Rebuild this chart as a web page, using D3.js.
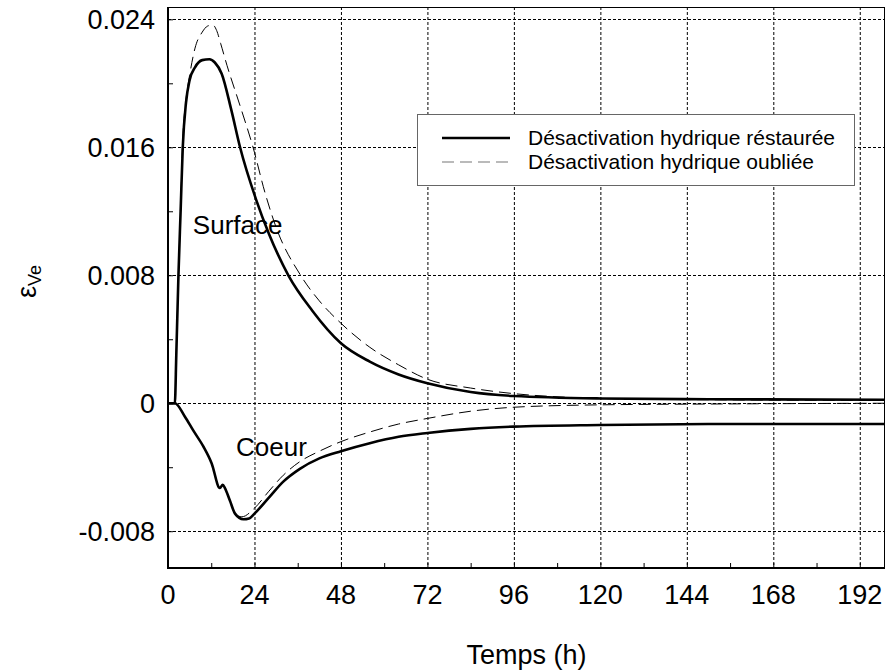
<!DOCTYPE html>
<html>
<head>
<meta charset="utf-8">
<script src="https://cdn.jsdelivr.net/npm/d3@7"></script>
<style>
  body { margin: 0; background: #fff; }
  text { font-family: Arial, "Liberation Sans", sans-serif; fill: #000; }
</style>
</head>
<body>
<div id="wrapper"></div>
<script>
// tick values
const xTicks = [0, 24, 48, 72, 96, 120, 144, 168, 192];
const yTicks = [-0.008, 0, 0.008, 0.016, 0.024];
const yTickLabels = ["-0.008", "0", "0.008", "0.016", "0.024"];
const seriesNames = ["Désactivation hydrique réstaurée", "Désactivation hydrique oubliée"];

// [temps (h), epsilon]
const surfaceRestored = [
  [0, 0], [1.9, 0], [2.3, 0.003], [2.9, 0.008], [3.5, 0.012], [4.1, 0.016], [5.0, 0.0188],
  [6.0, 0.0202], [7.5, 0.0210], [9.5, 0.02145], [11.5, 0.0215], [13, 0.0213], [14.9, 0.0206],
  [17.5, 0.0184], [20, 0.016], [24.5, 0.0127], [28, 0.0106], [33.4, 0.008], [40, 0.0058],
  [48, 0.00375], [56, 0.0026], [64, 0.0018], [72, 0.00125], [84, 0.0007], [96, 0.00045],
  [120, 0.0003], [150, 0.00025], [199, 0.00022]
];
const surfaceForgotten = [
  [0, 0], [1.9, 0], [2.3, 0.003], [2.9, 0.008], [3.5, 0.012], [4.0, 0.016], [5.0, 0.019],
  [6.0, 0.0205], [7.5, 0.0222], [9.5, 0.0232], [11, 0.02358], [12.4, 0.02365], [13.5, 0.0233],
  [14.6, 0.0225], [16.4, 0.0211], [20, 0.0186], [23.6, 0.016], [27, 0.0131], [30, 0.011],
  [36.8, 0.008], [42, 0.0064], [48, 0.005], [56, 0.0035], [64, 0.0024], [72, 0.0015],
  [84, 0.00095], [96, 0.0006], [110, 0.00038], [120, 0.0003], [150, 0.00022], [199, 0.00018]
];
const coeurRestored = [
  [0, 0], [1.9, 0], [4.7, -0.00084], [7, -0.0017], [9.8, -0.0027], [12.1, -0.00375],
  [14.4, -0.0053], [15.2, -0.0051], [15.8, -0.0053], [17.2, -0.0061], [18.6, -0.0069],
  [20.9, -0.00725], [22.5, -0.0072], [24, -0.0069], [28, -0.0059], [32, -0.0049],
  [36.6, -0.0041], [42, -0.00345], [48, -0.003], [56, -0.0025], [64, -0.0021], [72, -0.00186],
  [84, -0.0016], [96, -0.00146], [120, -0.00136], [150, -0.0013], [199, -0.0013]
];
const coeurForgotten = [
  [0, 0], [1.9, 0], [4.7, -0.00084], [7, -0.0017], [9.8, -0.0027], [12.1, -0.00375],
  [14.4, -0.0053], [15.2, -0.0051], [15.8, -0.0053], [17.2, -0.0061], [18.6, -0.0069],
  [20.5, -0.0071], [24, -0.00656], [28, -0.0055], [32, -0.0045], [36.6, -0.00365],
  [42, -0.003], [48, -0.0024], [56, -0.0018], [64, -0.0013], [72, -0.00095], [84, -0.0005],
  [96, -0.00025], [120, -0.0001], [150, -0.00005], [199, 0]
];

var dimension = {
    width: 886,
    height: 672,
    margin: { top: 7, left: 168, bottom: 104, right: 1 }
};
dimension.boundedWidth = dimension.width - dimension.margin.left - dimension.margin.right;
dimension.boundedHeight = dimension.height - dimension.margin.top - dimension.margin.bottom;

const svg = d3.select("#wrapper").append("svg")
    .attr("width", dimension.width)
    .attr("height", dimension.height);

const bounded = svg.append("g")
    .attr("transform", `translate(${dimension.margin.left},${dimension.margin.top})`);

const xScaler = d3.scaleLinear()
    .domain([0, 199])
    .range([0, dimension.boundedWidth]);

const yScaler = d3.scaleLinear()
    .domain([-0.0103, 0.02477])
    .range([dimension.boundedHeight, 0]);

bounded.append("clipPath").attr("id", "clip")
    .append("rect")
    .attr("width", dimension.boundedWidth)
    .attr("height", dimension.boundedHeight);

// grid
const grid = bounded.append("g")
    .attr("stroke", "#000")
    .attr("stroke-width", 1)
    .attr("stroke-dasharray", "3,2");
grid.selectAll(".vg").data(xTicks.filter(d => d > 0)).join("line")
    .attr("x1", d => xScaler(d) + 0.5).attr("x2", d => xScaler(d) + 0.5)
    .attr("y1", 0).attr("y2", dimension.boundedHeight);
grid.selectAll(".hg").data(yTicks).join("line")
    .attr("x1", 0).attr("x2", dimension.boundedWidth)
    .attr("y1", d => Math.round(yScaler(d)) + 0.5).attr("y2", d => Math.round(yScaler(d)) + 0.5);

// frame
bounded.append("rect")
    .attr("x", 0.5).attr("y", 0.5)
    .attr("width", dimension.boundedWidth - 1)
    .attr("height", dimension.boundedHeight)
    .attr("fill", "none").attr("stroke", "#000").attr("stroke-width", 1);
bounded.append("line")
    .attr("x1", 0).attr("x2", 0).attr("y1", 0).attr("y2", dimension.boundedHeight + 1)
    .attr("stroke", "#000").attr("stroke-width", 2);
bounded.append("line")
    .attr("x1", -1).attr("x2", dimension.boundedWidth).attr("y1", dimension.boundedHeight).attr("y2", dimension.boundedHeight)
    .attr("stroke", "#000").attr("stroke-width", 2);

// axes (inner ticks)
const xAxisGroup = bounded.append("g")
    .attr("transform", `translate(0,${dimension.boundedHeight})`)
    .call(d3.axisBottom(xScaler).tickValues(d3.range(0, 199, 12)).tickSizeInner(-5).tickSizeOuter(0).tickFormat(""));
const yAxisGroup = bounded.append("g")
    .call(d3.axisLeft(yScaler).tickValues(d3.range(-0.008, 0.0245, 0.004)).tickSizeInner(-5).tickSizeOuter(0).tickFormat(""));
[xAxisGroup, yAxisGroup].forEach(g => {
    g.select(".domain").remove();
    g.selectAll("line").attr("stroke", "#000").attr("stroke-width", 1);
});

// tick labels
bounded.append("g").selectAll("text").data(xTicks).join("text")
    .attr("x", d => xScaler(d))
    .attr("y", dimension.boundedHeight + 36)
    .attr("text-anchor", "middle")
    .attr("font-size", "27px")
    .text(d => d);
bounded.append("g").selectAll("text").data(yTicks).join("text")
    .attr("x", -13)
    .attr("y", d => yScaler(d))
    .attr("dy", "0.35em")
    .attr("text-anchor", "end")
    .attr("font-size", "27px")
    .text((d, i) => yTickLabels[i]);

// axis titles
svg.append("text")
    .attr("x", dimension.margin.left + dimension.boundedWidth / 2)
    .attr("y", 664)
    .attr("text-anchor", "middle")
    .attr("font-size", "27px")
    .text("Temps (h)");
const yTitle = svg.append("text")
    .attr("transform", `translate(36,${dimension.margin.top + dimension.boundedHeight / 2 - 6}) rotate(-90)`)
    .attr("text-anchor", "middle")
    .attr("font-size", "27px");
yTitle.append("tspan").text("ε");
yTitle.append("tspan").attr("font-size", "18px").attr("dy", "0.3em").text("Ve");

// curves
const line = d3.line()
    .x(d => xScaler(d[0]))
    .y(d => yScaler(d[1]))
    .curve(d3.curveMonotoneX);
const curves = bounded.append("g").attr("clip-path", "url(#clip)");
[surfaceForgotten, coeurForgotten].forEach(s => {
    curves.append("path").datum(s)
        .attr("d", line).attr("fill", "none")
        .attr("stroke", "#000").attr("stroke-width", 1)
        .attr("stroke-dasharray", "12,6");
});
[surfaceRestored, coeurRestored].forEach(s => {
    curves.append("path").datum(s)
        .attr("d", line).attr("fill", "none")
        .attr("stroke", "#000").attr("stroke-width", 2.6);
});

// annotations
bounded.append("text")
    .attr("x", xScaler(6.9)).attr("y", yScaler(0.0106))
    .attr("font-size", "26px").text("Surface");
bounded.append("text")
    .attr("x", xScaler(18.9)).attr("y", yScaler(-0.0033))
    .attr("font-size", "26px").text("Coeur");

// legend
const legend = svg.append("g").attr("transform", "translate(417,114)");
legend.append("rect")
    .attr("x", 0.5).attr("y", 0.5).attr("width", 437).attr("height", 71)
    .attr("fill", "#fff").attr("stroke", "#666").attr("stroke-width", 1);
seriesNames.forEach((name, i) => {
    const y = 24 + i * 24;
    legend.append("line")
        .attr("x1", 25).attr("x2", 93).attr("y1", y).attr("y2", y)
        .attr("stroke", i === 0 ? "#000" : "#777")
        .attr("stroke-width", i === 0 ? 2.6 : 1.2)
        .attr("stroke-dasharray", i === 0 ? null : "12,6");
    legend.append("text")
        .attr("x", 111).attr("y", y).attr("dy", "0.35em")
        .attr("font-size", "21px").text(name);
});
</script>
</body>
</html>
